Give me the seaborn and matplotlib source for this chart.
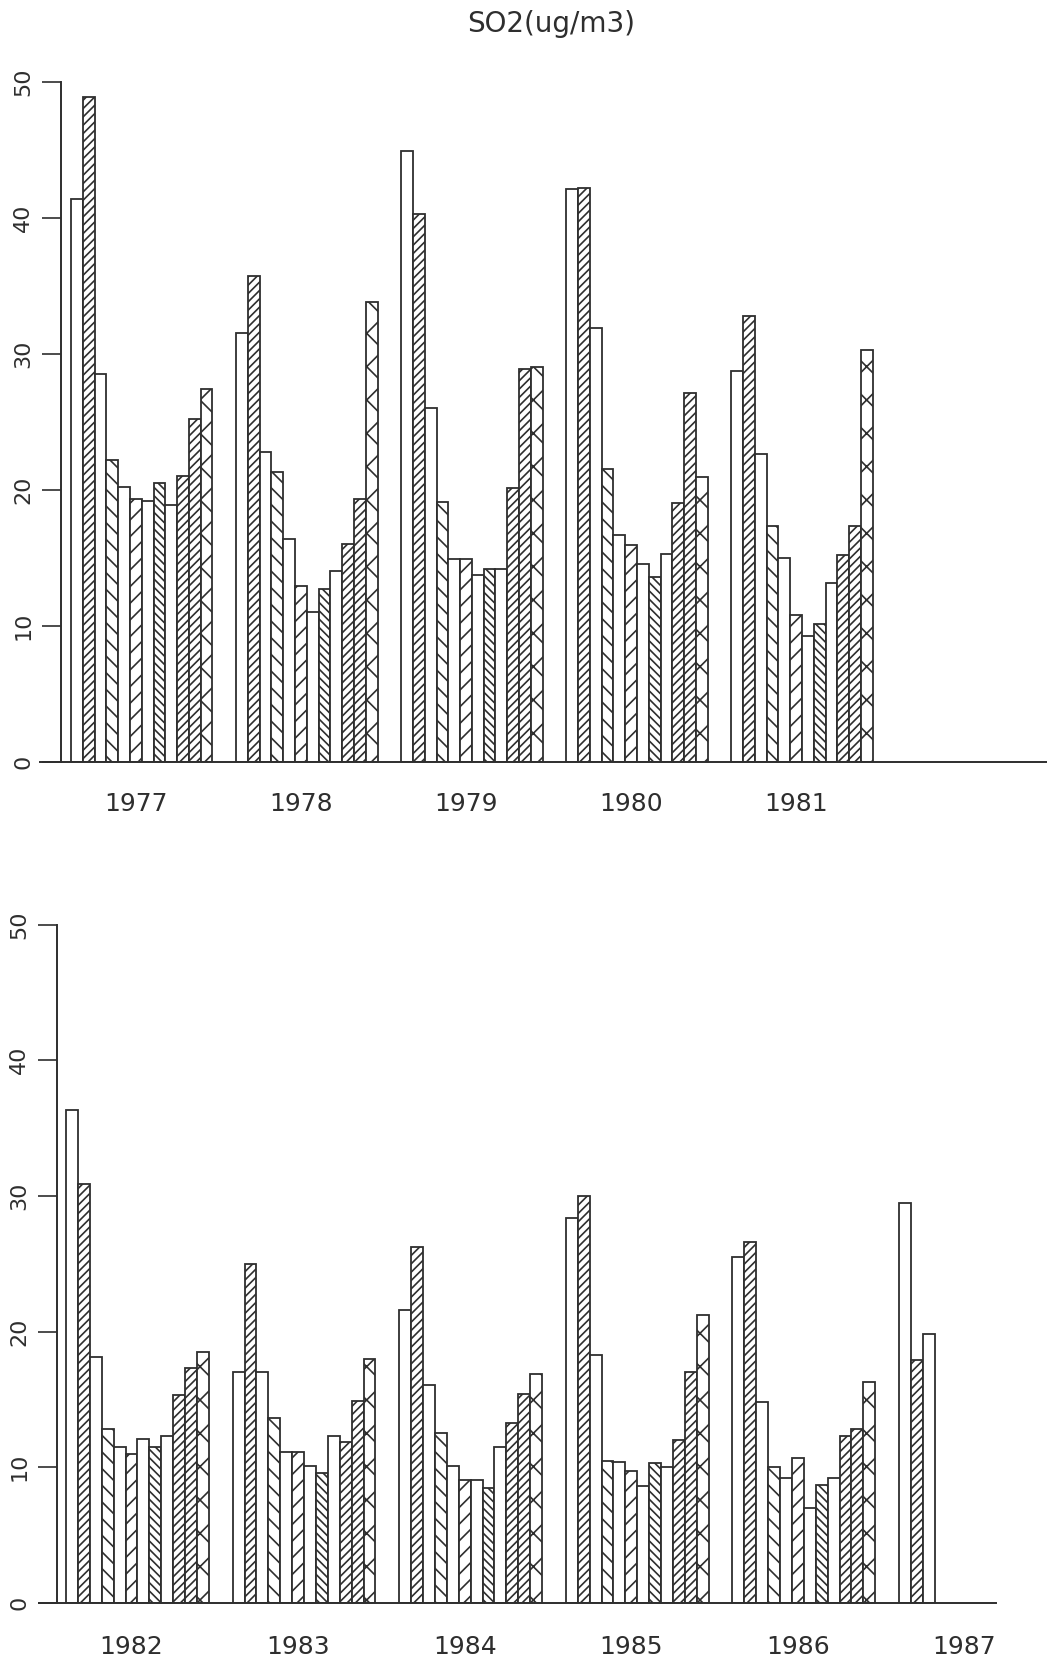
import numpy as np
import pandas as pd
import seaborn as sns
import matplotlib.pyplot as plt

# monthly SO2 means (ug/m3), Jan..Dec
years_top = [1977, 1978, 1979, 1980, 1981]
years_bottom = [1982, 1983, 1984, 1985, 1986, 1987]

so2_1977 = [41.4, 48.9, 28.5, 22.2, 20.2, 19.3, 19.2, 20.5, 18.9, 21.0, 25.2, 27.4]
so2_1978 = [31.5, 35.7, 22.8, 21.3, 16.4, 12.9, 11.0, 12.7, 14.0, 16.0, 19.3, 33.8]
so2_1979 = [44.9, 40.3, 26.0, 19.1, 14.9, 14.9, 13.7, 14.2, 14.2, 20.1, 28.9, 29.0]
so2_1980 = [42.1, 42.2, 31.9, 21.5, 16.7, 15.9, 14.5, 13.6, 15.3, 19.0, 27.1, 20.9]
so2_1981 = [28.7, 32.8, 22.6, 17.3, 15.0, 10.8, 9.2, 10.1, 13.1, 15.2, 17.3, 30.3]
so2_1982 = [36.3, 30.9, 18.1, 12.8, 11.5, 11.0, 12.1, 11.5, 12.3, 15.3, 17.3, 18.5]
so2_1983 = [17.0, 25.0, 17.0, 13.6, 11.1, 11.1, 10.1, 9.6, 12.3, 11.9, 14.9, 18.0]
so2_1984 = [21.6, 26.2, 16.1, 12.5, 10.1, 9.1, 9.1, 8.5, 11.5, 13.3, 15.4, 16.9]
so2_1985 = [28.4, 30.0, 18.3, 10.5, 10.4, 9.7, 8.6, 10.3, 10.0, 12.0, 17.0, 21.2]
so2_1986 = [25.5, 26.6, 14.8, 10.0, 9.2, 10.7, 7.0, 8.7, 9.2, 12.3, 12.8, 16.3]
so2_1987 = [29.5, 17.9, 19.8]

values_top = [so2_1977, so2_1978, so2_1979, so2_1980, so2_1981]
values_bottom = [so2_1982, so2_1983, so2_1984, so2_1985, so2_1986, so2_1987]

# fill pattern per month
hatches = ['', '////', '', '\\\\', '', '//', '', '\\\\\\\\', '', '////', '////', 'x']
slots = 14  # 12 months + 2 empty slots between years
ink = '#2e2e2e'

sns.set_theme(style='white')
plt.rcParams['font.family'] = ['DejaVu Sans']
plt.rcParams['hatch.linewidth'] = 1.2
plt.rcParams['text.color'] = ink


def make_frame(years, values):
    rows = []
    for i, (yr, vals) in enumerate(zip(years, values)):
        for m, v in enumerate(vals):
            rows.append({'pos': i * slots + m + 0.5, 'year': yr, 'month': m + 1, 'so2': v})
    return pd.DataFrame(rows)


def draw_panel(ax, years, values, xlim, spine_x, label_pad):
    df = make_frame(years, values)
    sns.barplot(data=df, x='pos', y='so2', native_scale=True, width=1,
                color='white', saturation=1, edgecolor=ink, linewidth=1.3,
                errorbar=None, ax=ax)
    for p in ax.patches:
        m = int(round(p.get_x())) % slots
        p.set_hatch(hatches[m])

    ax.set_xlim(*xlim)
    ax.set_ylim(0, 50)
    ax.set_xlabel('')
    ax.set_ylabel('')
    for s in ['top', 'right']:
        ax.spines[s].set_visible(False)
    ax.spines['left'].set_position(('data', spine_x))
    for s in ['left', 'bottom']:
        ax.spines[s].set_color(ink)
        ax.spines[s].set_linewidth(1.4)

    ax.set_yticks(range(0, 51, 10))
    ax.set_yticklabels([str(v) for v in range(0, 51, 10)], rotation=90, va='center')
    ax.tick_params(axis='y', direction='out', length=14, width=1.2, color=ink,
                   labelsize=16, labelcolor=ink, pad=6, left=True)
    ax.set_xticks([i * slots + 5.5 for i in range(len(years))])
    ax.set_xticklabels([str(y) for y in years])
    ax.tick_params(axis='x', length=0, labelsize=18, labelcolor=ink, pad=label_pad)


fig = plt.figure(figsize=(10.47, 16.62), dpi=100)
W, H = 1047, 1662

ax1 = fig.add_axes([40 / W, 1 - 761.5 / H, 1007 / W, 679.5 / H])
draw_panel(ax1, years_top, values_top, (-2.63, 82.78), -0.85, 22)

ax2 = fig.add_axes([39 / W, 1 - 1603 / H, 957 / W, 678.5 / H])
draw_panel(ax2, years_bottom, values_bottom, (-2.27, 78.15), -0.76, 23)

fig.text(551 / W, 1 - 24 / H, 'SO2(ug/m3)', ha='center', va='center', fontsize=20, color=ink)

fig.savefig('out.png', dpi=100, facecolor='white')
